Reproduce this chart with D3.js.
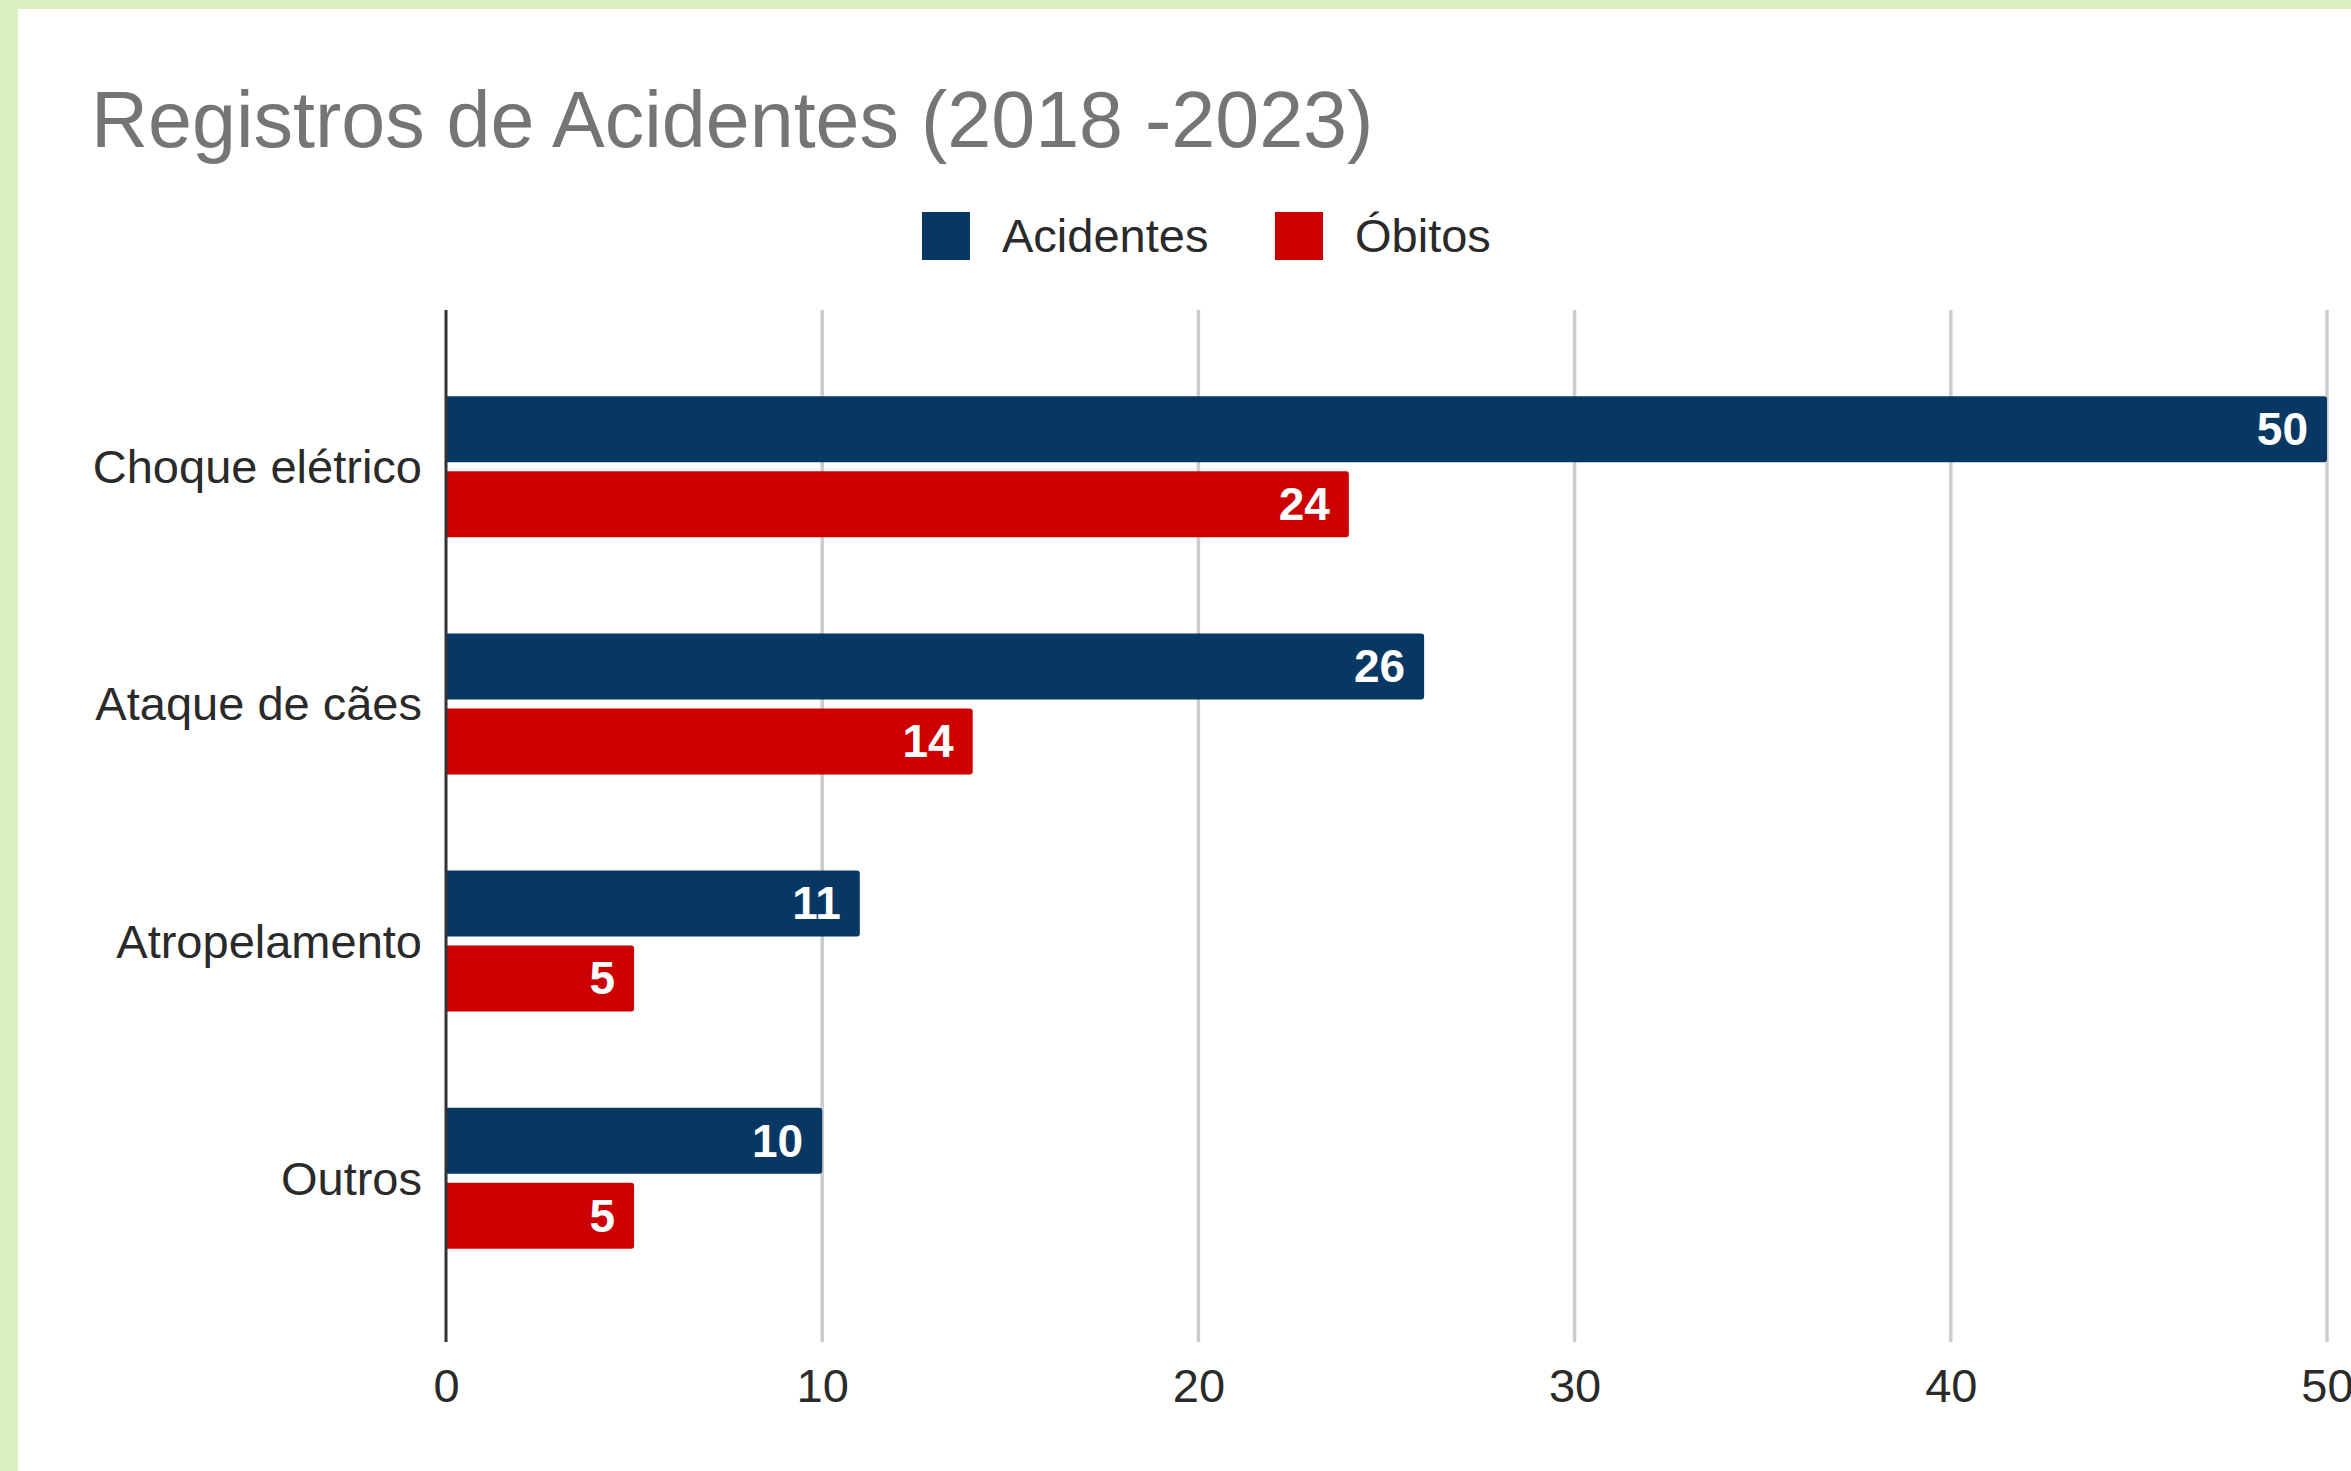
<!DOCTYPE html>
<html>
<head>
<meta charset="utf-8">
<script src="https://cdn.jsdelivr.net/npm/d3@7"></script>
<style>
  html, body { margin: 0; padding: 0; background: #ffffff; }
  svg { display: block; }
  text { font-family: "Liberation Sans", Arial, sans-serif; }
</style>
</head>
<body>
<svg id="chart" width="2351" height="1471"></svg>
<script>
const title = "Registros de Acidentes (2018 -2023)";
const categories = ["Choque elétrico", "Ataque de cães", "Atropelamento", "Outros"];
const seriesNames = ["Acidentes", "Óbitos"];
const acidentes = [50, 26, 11, 10];
const obitos = [24, 14, 5, 5];
const xTicks = [0, 10, 20, 30, 40, 50];
const colors = ["#073763", "#cc0000"];

const svg = d3.select("#chart");
const W = 2351, H = 1471;

// background and green frame
svg.append("rect").attr("width", W).attr("height", H).attr("fill", "#ffffff");
svg.append("rect").attr("x", 0).attr("y", 0).attr("width", W).attr("height", 9).attr("fill", "#d9efbf");
svg.append("rect").attr("x", 0).attr("y", 0).attr("width", 18).attr("height", H).attr("fill", "#d9efbf");

// title
svg.append("text")
  .attr("x", 91).attr("y", 147)
  .attr("font-size", 79)
  .attr("fill", "#757575")
  .text(title);

// scales
const x = d3.scaleLinear().domain([0, 50]).range([446, 2327]);
const y = d3.scaleBand().domain(categories).range([348, 1297])
  .paddingInner(0.4057).paddingOuter(0.2029);
const y1 = d3.scaleBand().domain(seriesNames).range([0, y.bandwidth()]).paddingInner(0.12);

const plotTop = 310, plotBottom = 1342;

// gridlines
svg.append("g").selectAll("line")
  .data(xTicks.filter(t => t !== 0))
  .join("line")
  .attr("x1", d => x(d)).attr("x2", d => x(d))
  .attr("y1", plotTop).attr("y2", plotBottom)
  .attr("stroke", "#cccccc").attr("stroke-width", 3.5);

// x axis tick labels
const xAxis = d3.axisBottom(x).tickValues(xTicks).tickSize(0).tickPadding(0).tickFormat(d3.format("d"));
const gx = svg.append("g").attr("transform", `translate(0, ${plotBottom})`).call(xAxis);
gx.select(".domain").remove();
gx.selectAll("text")
  .attr("y", 60).attr("dy", null)
  .attr("font-size", 47)
  .attr("fill", "#2a2a2a")
  .style("font-family", '"Liberation Sans", Arial, sans-serif');

// category labels
const yAxis = d3.axisLeft(y).tickSize(0).tickPadding(24);
const gy = svg.append("g").attr("transform", `translate(${x(0)}, 0)`).call(yAxis);
gy.select(".domain").remove();
gy.selectAll("text")
  .attr("dy", "0.35em")
  .attr("font-size", 47)
  .attr("fill", "#2a2a2a")
  .style("font-family", '"Liberation Sans", Arial, sans-serif');

// bars
const rows = [];
categories.forEach((c, i) => {
  rows.push({ cat: c, s: seriesNames[0], v: acidentes[i], color: colors[0] });
  rows.push({ cat: c, s: seriesNames[1], v: obitos[i], color: colors[1] });
});

function barPath(x0, x1, yTop, h, r) {
  return `M${x0},${yTop} H${x1 - r} Q${x1},${yTop} ${x1},${yTop + r} V${yTop + h - r} Q${x1},${yTop + h} ${x1 - r},${yTop + h} H${x0} Z`;
}

const gBars = svg.append("g");
gBars.selectAll("path")
  .data(rows)
  .join("path")
  .attr("d", d => barPath(x(0), x(d.v), y(d.cat) + y1(d.s), y1.bandwidth(), 3))
  .attr("fill", d => d.color);

// value labels
gBars.selectAll("text")
  .data(rows)
  .join("text")
  .attr("x", d => x(d.v) - 19)
  .attr("y", d => y(d.cat) + y1(d.s) + y1.bandwidth() / 2)
  .attr("dy", "0.34em")
  .attr("text-anchor", "end")
  .attr("font-size", 46)
  .attr("font-weight", "bold")
  .attr("fill", "#ffffff")
  .text(d => d.v);

// zero axis line
svg.append("line")
  .attr("x1", x(0)).attr("x2", x(0))
  .attr("y1", plotTop).attr("y2", plotBottom)
  .attr("stroke", "#333333").attr("stroke-width", 3);

// legend
const legendItems = [
  { name: seriesNames[0], color: colors[0], x: 922 },
  { name: seriesNames[1], color: colors[1], x: 1275 }
];
const gl = svg.append("g");
legendItems.forEach(it => {
  gl.append("rect").attr("x", it.x).attr("y", 212).attr("width", 48).attr("height", 48)
    .attr("fill", it.color);
  gl.append("text").attr("x", it.x + 80).attr("y", 252)
    .attr("font-size", 47).attr("fill", "#2a2a2a").text(it.name);
});
</script>
</body>
</html>
